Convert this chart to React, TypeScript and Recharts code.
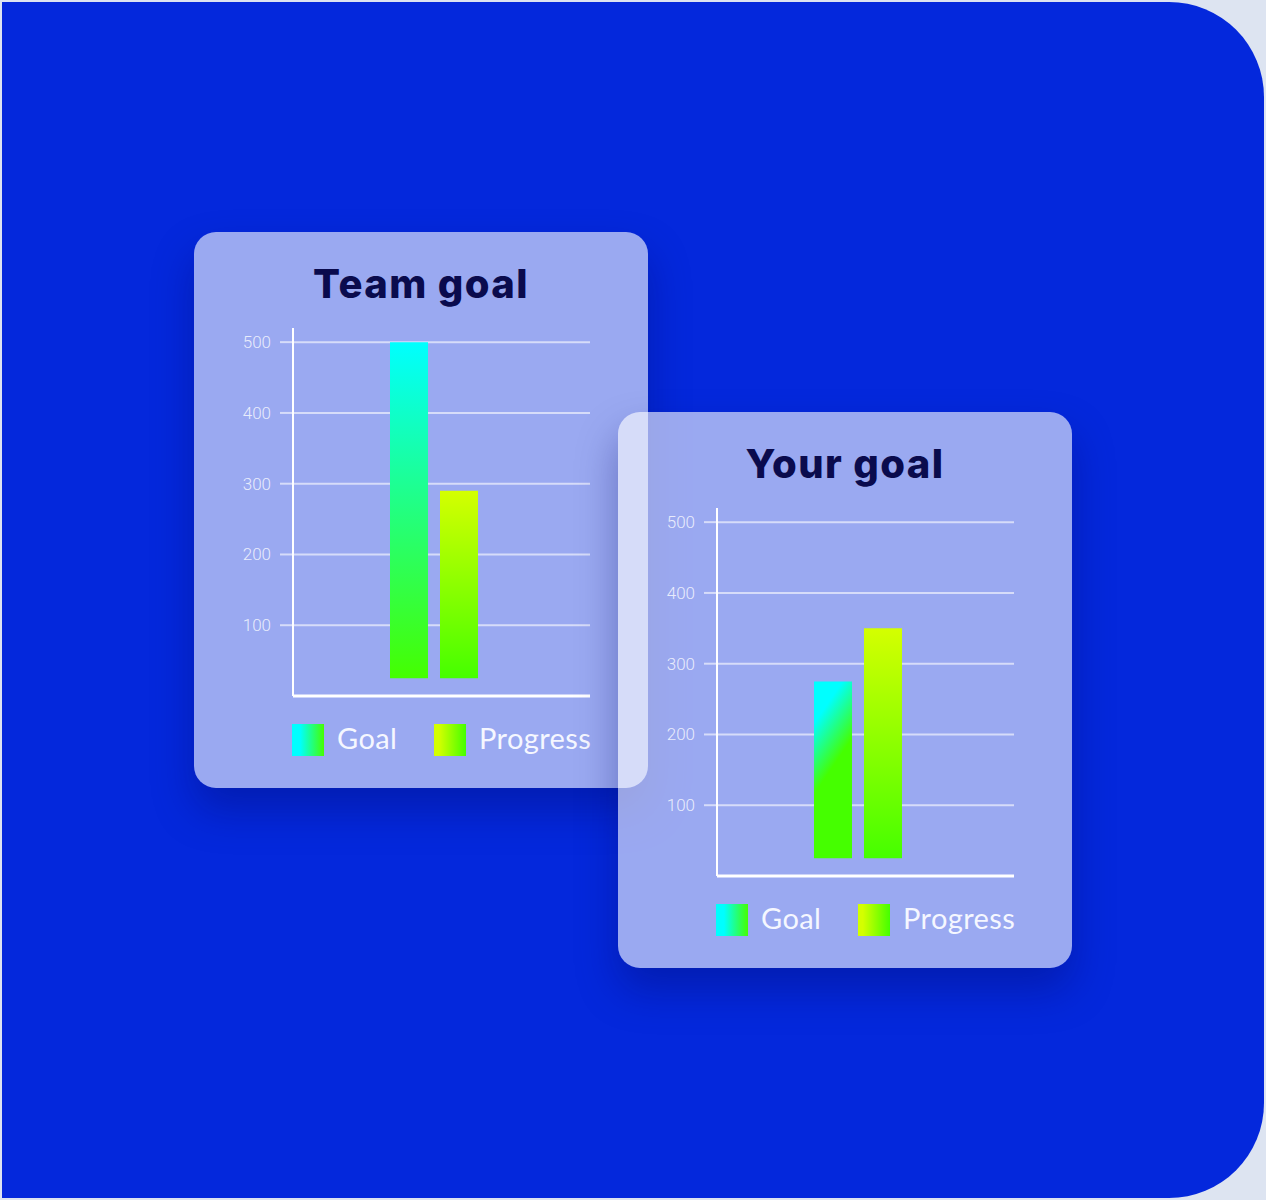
import React from "react";
import { BarChart, Bar, XAxis, YAxis, CartesianGrid, Legend } from "recharts";

const seriesKeys = ["goal", "progress"];
const seriesNames = ["Goal", "Progress"];
const teamGoalValues = [500, 290];
const yourGoalValues = [275, 350];
const barStart = 25;
const yTicks = [100, 200, 300, 400, 500];
const yMax = 520;

const swatches: Record<string, string> = {
  goal: "linear-gradient(90deg, #00ffff 25%, #45ff00 100%)",
  progress: "linear-gradient(90deg, #d4ff00 15%, #45ff00 100%)",
};

function buildRows(label: string, values: number[]) {
  const row: Record<string, any> = { name: label };
  seriesKeys.forEach((key, i) => {
    row[key] = [barStart, values[i]];
  });
  return [row];
}

const renderLegend = (props: any) => {
  const { payload = [] } = props;
  return (
    <div style={{ display: "flex", alignItems: "center" }}>
      {payload.map((entry: any) => (
        <div key={entry.value} style={{ display: "flex", alignItems: "center", width: 142, flexShrink: 0 }}>
          <span
            style={{
              display: "inline-block",
              flexShrink: 0,
              width: 32,
              height: 32,
              background: swatches[entry.dataKey],
            }}
          />
          <span
            style={{
              marginLeft: 13,
              position: "relative",
              top: -2,
              fontFamily: "Lato",
              fontSize: 29,
              letterSpacing: 0.4,
              lineHeight: "32px",
              color: "#f5f7ff",
              whiteSpace: "nowrap",
            }}
          >
            {entry.value}
          </span>
        </div>
      ))}
    </div>
  );
};

function GoalCard({ id, title, values, left, top, diagonal }: any) {
  const data = buildRows(title, values);
  return (
    <div
      style={{
        position: "absolute",
        left,
        top,
        width: 454,
        height: 556,
        borderRadius: 22,
        background: "rgba(255,255,255,0.6)",
        boxShadow: "0 22px 40px rgba(0,10,100,0.35)",
      }}
    >
      <div style={{ position: "absolute", left: 0, top: 0 }}>
        <BarChart
          width={454}
          height={556}
          data={data}
          margin={{ top: 96, right: 58, bottom: 91, left: 0 }}
          barGap={12}
        >
          <defs>
            {diagonal ? (
              <linearGradient id={`${id}-goal`} x1="0" y1="0.18" x2="0.14" y2="0.62">
                <stop offset="0.12" stopColor="#00ffff" />
                <stop offset="0.95" stopColor="#45ff00" />
              </linearGradient>
            ) : (
              <linearGradient id={`${id}-goal`} x1="0" y1="0" x2="0" y2="1">
                <stop offset="0" stopColor="#00ffff" />
                <stop offset="1" stopColor="#45ff00" />
              </linearGradient>
            )}
            <linearGradient id={`${id}-progress`} x1="0" y1="0" x2="0" y2="1">
              <stop offset="0" stopColor="#d4ff00" />
              <stop offset="1" stopColor="#45ff00" />
            </linearGradient>
          </defs>
          <CartesianGrid
            vertical={false}
            horizontalValues={yTicks}
            stroke="rgba(255,255,255,0.6)"
            strokeWidth={2}
          />
          <XAxis
            dataKey="name"
            tick={false}
            tickLine={false}
            axisLine={{ stroke: "#ffffff", strokeWidth: 3 }}
            height={1}
            padding={{ left: 0, right: 15 }}
          />
          <YAxis
            domain={[0, yMax]}
            ticks={yTicks}
            interval={0}
            width={99}
            tickSize={13}
            tickMargin={9}
            axisLine={{ stroke: "#ffffff", strokeWidth: 2 }}
            tickLine={{ stroke: "rgba(255,255,255,0.6)", strokeWidth: 2 }}
            tick={{ fill: "rgba(255,255,255,0.8)", fontSize: 17, fontFamily: "Roboto", fontWeight: 300 }}
          />
          <Legend
            layout="vertical"
            align="center"
            verticalAlign="middle"
            content={renderLegend}
            wrapperStyle={{ top: 492, left: 98, width: 320, height: 32 }}
          />
          {seriesKeys.map((key, i) => (
            <Bar
              key={key}
              dataKey={key}
              name={seriesNames[i]}
              barSize={38}
              fill={`url(#${id}-${key})`}
              isAnimationActive={false}
            />
          ))}
        </BarChart>
      </div>
      <div
        style={{
          position: "absolute",
          left: 0,
          top: 32,
          width: "100%",
          textAlign: "center",
          fontFamily: "Inter",
          fontWeight: 800,
          fontSize: 40,
          letterSpacing: 1.4,
          lineHeight: "40px",
          color: "#0a0b4d",
        }}
      >
        {title}
      </div>
    </div>
  );
}

export default function App() {
  return (
    <div
      style={{
        position: "absolute",
        left: 0,
        top: 0,
        width: 1266,
        height: 1200,
        background: "#dde4f1",
        overflow: "hidden",
      }}
    >
      <div
        style={{
          position: "absolute",
          left: 2,
          top: 2,
          width: 1262,
          height: 1196,
          background: "#0428dc",
          borderRadius: "0 95px 95px 0",
        }}
      />
      <GoalCard id="team" title="Team goal" values={teamGoalValues} left={194} top={232} diagonal={false} />
      <GoalCard id="your" title="Your goal" values={yourGoalValues} left={618} top={412} diagonal={true} />
    </div>
  );
}
